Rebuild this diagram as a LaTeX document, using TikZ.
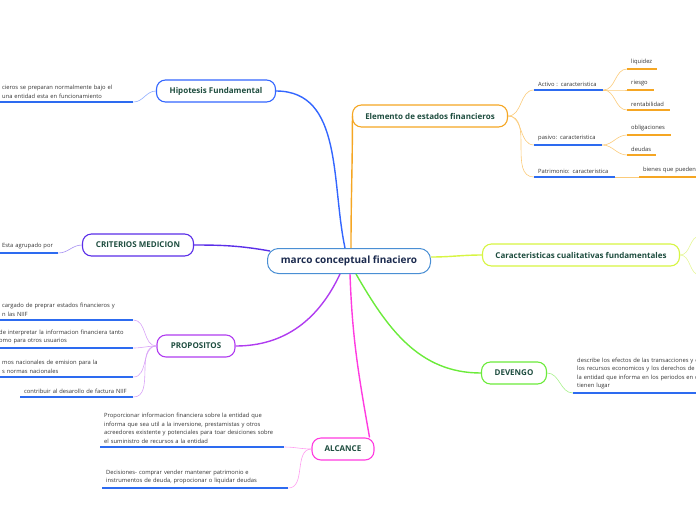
\documentclass[tikz,border=0pt]{standalone}
\usepackage{fontspec}
\setmainfont{Open Sans}
\usetikzlibrary{positioning}

\definecolor{rootblue}{HTML}{4A8FD4}
\definecolor{roottxt}{HTML}{1B2A4E}
\definecolor{topictxt}{HTML}{1E4D3F}
\definecolor{leaftxt}{HTML}{333333}
\definecolor{ulblue}{HTML}{2D6BF0}
\definecolor{hblue}{HTML}{3366FF}
\definecolor{hlight}{HTML}{8FADFF}
\definecolor{eorange}{HTML}{F5A623}
\definecolor{elight}{HTML}{FBCB7A}
\definecolor{cyell}{HTML}{D7F542}
\definecolor{clight}{HTML}{E6F79A}
\definecolor{cviolet}{HTML}{5A2EE8}
\definecolor{vlight}{HTML}{A690F2}
\definecolor{ppurple}{HTML}{B03CF0}
\definecolor{plight}{HTML}{D9A3F7}
\definecolor{dgreen}{HTML}{6BEB3A}
\definecolor{glight}{HTML}{A8F28C}
\definecolor{amag}{HTML}{FF3BE0}
\definecolor{mlight}{HTML}{FF9EF0}

\begin{document}
\begin{tikzpicture}[
  x=1pt, y=1pt,
  root/.style={draw=rootblue, line width=1pt, rounded corners=11pt, fill=white, text=roottxt,
    minimum width=163pt, minimum height=25pt, font=\fontsize{10}{11}\selectfont\bfseries},
  topic/.style={draw=#1, line width=1.1pt, rounded corners=9pt, fill=white, text=topictxt,
    minimum height=22pt, font=\fontsize{8}{9}\selectfont\bfseries},
  leaf/.style={anchor=south west, align=left, inner xsep=4pt, inner ysep=3.5pt, text=leaftxt,
    font=\fontsize{5.8}{8.6}\selectfont},
  branch/.style={line width=1.4pt},
  twig/.style={line width=0.6pt},
  uline/.style={line width=1.6pt, draw=ulblue}
]
  \clip (0,0) rectangle (696,-520);

  % central topic and main branches
  \node[root] (root) at (349,-261) {marco conceptual finaciero};
  \node[topic=hblue, minimum width=119pt] (hipo) at (216,-91) {Hipotesis Fundamental};
  \node[topic=eorange, minimum width=155pt] (elem) at (430,-116) {Elemento de estados financieros};
  \node[topic=cyell, minimum width=197pt] (carac) at (581,-255) {Caracteristicas cualitativas fundamentales};
  \node[topic=cviolet, minimum width=111pt] (crit) at (138,-245) {CRITERIOS MEDICION};
  \node[topic=ppurple, minimum width=78pt] (prop) at (196,-346) {PROPOSITOS};
  \node[topic=dgreen, minimum width=65pt] (dev) at (514,-373) {DEVENGO};
  \node[topic=amag, minimum width=62pt] (alc) at (343,-449) {ALCANCE};

  \draw[branch, hblue] (hipo.east) to[out=0, in=102] ([xshift=-4pt]root.north);
  \draw[branch, eorange] ([xshift=2pt]root.north) to[out=90, in=-90] ([xshift=0.5pt]elem.west);
  \draw[branch, cyell] ([yshift=4pt]root.east) to[out=0, in=180] (carac.west);
  \draw[branch, cviolet] (crit.east) to[out=0, in=170] ([xshift=3pt, yshift=-3pt]root.north west);
  \draw[branch, ppurple] (prop.east) to[out=0, in=245] ([xshift=-9pt]root.south);
  \draw[branch, dgreen] ([xshift=7pt]root.south) to[out=-60, in=180] (dev.west);
  \draw[branch, amag] ([xshift=1pt]root.south) to[out=-88, in=100] ([xshift=-5pt]alc.north east);

  % left side
  \node[leaf, text width=127pt] (hf1) at (-2,-102) {cieros se preparan normalmente bajo el\\una entidad esta en funcionamiento};
  \node[leaf, text width=52pt] (cm1) at (-2,-253) {Esta agrupado por};
  \node[leaf, text width=127pt] (pr1) at (-2,-320) {cargado de preprar estados financieros y\\n las NIIF};
  \node[leaf, text width=130pt] (pr2) at (-5,-348) {de interpretar la informacion financiera tanto\\omo para otros usuarios};
  \node[leaf, text width=127pt] (pr3) at (-2,-377) {mos nacionales de emision para la\\s normas nacionales};
  \node[leaf, text width=105pt] (pr4) at (20,-397) {contribuir al desarollo de factura NIIF};
  \node[leaf, text width=176pt] (al1) at (100,-447) {Proporcionar informacion financiera sobre la entidad que\\informa que sea util a la inversione, prestamistas y otros\\acreedores existente y potenciales para toar desiciones sobre\\el suministro de recursos a la entidad};
  \node[leaf, text width=178pt] (al2) at (102,-488) {Decisiones- comprar vender mantener patrimonio e\\instrumentos de deuda, propocionar o liquidar deudas};

  \draw[twig, hlight] (hf1.south east) to[out=0, in=180] (hipo.west);
  \draw[twig, vlight] (cm1.south east) to[out=0, in=180] (crit.west);
  \foreach \n in {pr1,pr2,pr3,pr4}
    \draw[twig, plight] (\n.south east) to[out=0, in=180] (prop.west);
  \foreach \n in {al1,al2}
    \draw[twig, mlight] (\n.south east) to[out=0, in=180] (alc.west);

  % right side
  \node[leaf, text width=61pt] (act) at (534,-90) {Activo : caracteristica};
  \node[leaf, text width=60pt] (pas) at (534,-145) {pasivo: caracteristica};
  \node[leaf, text width=73pt] (pat) at (534,-177) {Patrimonio: caracteristica};
  \node[leaf, text width=22pt] (liq) at (627,-69) {liquidez};
  \node[leaf, text width=19pt] (rie) at (627,-90) {riesgo};
  \node[leaf, text width=35pt] (ren) at (627,-110) {rentabilidad};
  \node[leaf, text width=36pt] (obl) at (627,-135) {obligaciones};
  \node[leaf, text width=21pt] (deu) at (627,-155) {deudas};
  \node[leaf, text width=62pt] (bie) at (639,-177) {bienes que pueden};
  \node[leaf, text width=130pt] (dv1) at (573,-393) {describe los efectos de las transacciones y c\\los recursos economicos y los derechos de\\la entidad que informa en los periodos en c\\tienen lugar};
  \coordinate (cq1) at (700,-236);
  \coordinate (cq2) at (700,-275);

  \foreach \n in {act,pas,pat}
    \draw[twig, elight] (elem.east) to[out=0, in=180] (\n.south west);
  \foreach \n in {liq,rie,ren}
    \draw[twig, elight] (act.south east) to[out=0, in=180] (\n.south west);
  \foreach \n in {obl,deu}
    \draw[twig, elight] (pas.south east) to[out=0, in=180] (\n.south west);
  \draw[twig, elight] (pat.south east) -- (bie.south west);
  \draw[twig, clight] (carac.east) to[out=0, in=180] (cq1);
  \draw[twig, clight] (carac.east) to[out=0, in=180] (cq2);
  \draw[twig, glight] (dev.east) to[out=0, in=180] (dv1.south west);

  % underlines
  \foreach \n in {hf1,cm1,pr1,pr2,pr3,pr4,al1,al2,act,pas,pat,dv1}
    \draw[uline] (\n.south west) -- (\n.south east);
  \foreach \n in {liq,rie,ren,obl,deu,bie}
    \draw[uline, draw=eorange] (\n.south west) -- (\n.south east);
\end{tikzpicture}
\end{document}
